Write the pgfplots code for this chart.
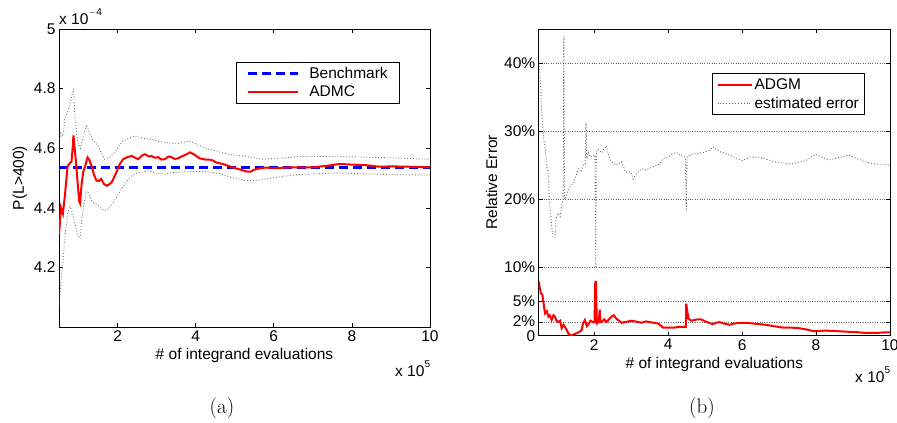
\documentclass[border=0pt]{standalone}
\usepackage{fontspec}
\usepackage{pgfplots}
\pgfplotsset{compat=1.18}
\usepackage{pgfplotstable}
\newfontfamily\chartfont{Liberation Sans}
\newcommand\chartsize{\chartfont\fontsize{15.5}{18}\selectfont}

% ---------- panel (a): estimate of P(L>400), units of 1e-4 ----------
\pgfplotstableread{
x y
0.50 4.310
0.55 4.400
0.60 4.380
0.65 4.440
0.72 4.540
0.78 4.550
0.82 4.555
0.85 4.600
0.87 4.643
0.90 4.600
0.93 4.560
0.98 4.480
1.02 4.420
1.04 4.415
1.08 4.480
1.12 4.520
1.17 4.540
1.23 4.569
1.28 4.560
1.33 4.541
1.40 4.510
1.46 4.491
1.52 4.490
1.58 4.497
1.65 4.480
1.72 4.474
1.78 4.478
1.85 4.486
1.92 4.505
1.97 4.519
2.05 4.545
2.14 4.563
2.25 4.570
2.36 4.574
2.45 4.568
2.53 4.563
2.62 4.575
2.70 4.580
2.80 4.572
2.87 4.574
2.95 4.568
3.04 4.570
3.12 4.562
3.21 4.563
3.30 4.572
3.38 4.570
3.46 4.564
3.55 4.566
3.63 4.572
3.71 4.576
3.80 4.582
3.85 4.586
3.95 4.580
4.10 4.566
4.25 4.562
4.40 4.561
4.53 4.552
4.70 4.547
4.85 4.540
5.04 4.532
5.20 4.526
5.30 4.522
5.40 4.521
5.50 4.528
5.63 4.532
5.80 4.535
6.00 4.533
6.30 4.535
6.60 4.536
7.00 4.536
7.30 4.540
7.68 4.547
8.00 4.545
8.36 4.543
8.70 4.538
9.04 4.539
9.40 4.538
9.70 4.537
10.0 4.536
}\admc

\pgfplotstableread{
x y
0.50 4.620
0.55 4.650
0.60 4.640
0.65 4.700
0.72 4.720
0.80 4.760
0.87 4.800
0.91 4.700
0.98 4.620
1.05 4.600
1.12 4.640
1.20 4.674
1.25 4.663
1.35 4.630
1.50 4.608
1.67 4.563
1.80 4.570
1.93 4.586
2.05 4.610
2.14 4.624
2.30 4.635
2.44 4.641
2.70 4.632
2.87 4.630
3.05 4.622
3.25 4.619
3.50 4.615
3.70 4.620
3.85 4.624
4.10 4.608
4.30 4.598
4.53 4.591
4.80 4.580
5.20 4.574
5.72 4.563
6.20 4.567
6.66 4.572
7.20 4.572
7.68 4.572
8.30 4.570
8.90 4.568
9.40 4.566
10.0 4.563
}\upperband

\pgfplotstableread{
x y
0.50 4.070
0.55 4.150
0.60 4.220
0.65 4.300
0.72 4.380
0.78 4.408
0.85 4.380
0.92 4.340
0.98 4.310
1.04 4.297
1.10 4.380
1.20 4.455
1.25 4.450
1.35 4.420
1.50 4.408
1.60 4.395
1.72 4.391
1.85 4.410
1.97 4.435
2.10 4.463
2.25 4.490
2.36 4.508
2.55 4.518
2.78 4.524
3.00 4.516
3.21 4.513
3.40 4.518
3.63 4.520
4.00 4.522
4.30 4.521
4.61 4.515
4.90 4.502
5.29 4.491
5.50 4.492
5.80 4.497
6.20 4.505
6.70 4.512
7.20 4.515
7.68 4.517
8.30 4.514
8.90 4.512
9.40 4.511
10.0 4.510
}\lowerband

% ---------- panel (b): relative errors ----------
\pgfplotstableread{
x y
0.50 0.080
0.53 0.070
0.56 0.062
0.60 0.060
0.62 0.052
0.67 0.033
0.72 0.036
0.76 0.028
0.80 0.030
0.85 0.023
0.90 0.030
0.94 0.028
0.98 0.022
1.03 0.020
1.08 0.022
1.12 0.011
1.17 0.016
1.21 0.013
1.26 0.008
1.30 0.0035
1.35 0.001
1.39 0.000
1.45 0.002
1.52 0.0035
1.58 0.005
1.66 0.008
1.70 0.018
1.75 0.023
1.80 0.014
1.84 0.016
1.90 0.022
1.97 0.020
2.01 0.020
2.03 0.079
2.05 0.079
2.07 0.018
2.12 0.020
2.15 0.038
2.17 0.020
2.20 0.020
2.27 0.024
2.33 0.020
2.40 0.024
2.47 0.028
2.53 0.030
2.60 0.025
2.67 0.022
2.74 0.019
2.85 0.020
3.00 0.022
3.10 0.021
3.20 0.020
3.28 0.019
3.40 0.021
3.50 0.020
3.60 0.019
3.72 0.018
3.80 0.015
3.86 0.012
4.00 0.012
4.18 0.012
4.30 0.013
4.44 0.013
4.48 0.013
4.49 0.047
4.52 0.035
4.55 0.025
4.63 0.022
4.71 0.023
4.80 0.024
4.89 0.024
5.00 0.021
5.10 0.019
5.21 0.017
5.30 0.019
5.39 0.020
5.50 0.018
5.66 0.016
5.80 0.018
5.93 0.019
6.10 0.019
6.28 0.018
6.45 0.017
6.64 0.016
6.85 0.014
7.09 0.012
7.30 0.012
7.54 0.011
7.75 0.009
7.95 0.0065
8.10 0.007
8.26 0.0075
8.45 0.007
8.62 0.0065
8.80 0.006
8.98 0.0055
9.15 0.005
9.34 0.004
9.50 0.004
9.61 0.004
9.75 0.0045
9.88 0.005
10.0 0.005
}\adgm

\pgfplotstableread{
x y
0.50 0.400
0.53 0.387
0.56 0.357
0.58 0.330
0.61 0.309
0.64 0.286
0.67 0.279
0.72 0.250
0.76 0.235
0.78 0.211
0.80 0.191
0.85 0.162
0.89 0.145
0.94 0.143
0.97 0.172
1.03 0.180
1.08 0.175
1.12 0.189
1.16 0.200
1.18 0.439
1.20 0.200
1.25 0.206
1.30 0.215
1.39 0.221
1.48 0.230
1.57 0.245
1.65 0.240
1.70 0.250
1.76 0.252
1.78 0.313
1.80 0.260
1.84 0.269
1.90 0.262
1.96 0.265
2.02 0.265
2.04 0.099
2.06 0.270
2.11 0.274
2.20 0.268
2.33 0.279
2.40 0.262
2.47 0.255
2.60 0.250
2.74 0.255
2.85 0.240
3.00 0.240
3.05 0.230
3.15 0.238
3.28 0.245
3.41 0.243
3.55 0.247
3.77 0.252
3.86 0.260
4.00 0.262
4.13 0.267
4.22 0.269
4.35 0.264
4.47 0.262
4.49 0.182
4.51 0.262
4.67 0.267
4.90 0.268
5.12 0.272
5.21 0.277
5.40 0.270
5.57 0.267
5.80 0.262
6.01 0.257
6.20 0.262
6.47 0.262
6.70 0.258
6.91 0.255
7.15 0.253
7.36 0.252
7.55 0.255
7.72 0.257
7.99 0.266
8.15 0.262
8.35 0.258
8.60 0.261
8.89 0.265
9.10 0.260
9.34 0.255
9.60 0.252
9.92 0.251
10.0 0.250
}\esterr

\pgfplotsset{
  matlab/.style={
    scale only axis,
    font=\chartsize,
    axis line style={line width=0.7pt},
    tick align=inside,
    major tick length=4pt,
    tick style={black, line width=0.6pt},
    /pgf/number format/assume math mode=true,
    scaled ticks=false,
    xmin=0.5, xmax=10,
    xtick={2,4,6,8,10},
    xlabel={\# of integrand evaluations},
    legend cell align=left,
    legend style={draw=black, line width=0.7pt, font=\chartsize,
      inner ysep=3pt, row sep=2pt},
  },
}

\begin{document}
\begin{tikzpicture}
\path[use as bounding box] (0pt,0pt) rectangle (897pt,-423pt);

% ---------------- (a) ----------------
\begin{axis}[matlab,
  at={(59pt,-29pt)}, anchor=north west,
  width=371pt, height=298pt,
  ymin=4, ymax=5,
  ytick={4.2,4.4,4.6,4.8,5},
  yticklabel style={/pgf/number format/fixed,
    /pgf/number format/precision=1},
  ylabel={P(L>400)},
  legend style={at={(0.477,0.889)}, anchor=north west, inner xsep=10pt},
  legend image code/.code={\draw[#1] (0pt,0pt) -- (50pt,0pt);
    \path (58pt,0pt);},
]
\addplot[forget plot, black!55, dotted, line width=0.9pt] table {\upperband};
\addplot[forget plot, black!55, dotted, line width=0.9pt] table {\lowerband};
\addplot[blue, line width=3pt, dash pattern=on 9pt off 5pt]
  coordinates {(0.5,4.534) (10,4.534)};
\addlegendentry{Benchmark}
\addplot[red, line width=2pt] table {\admc};
\addlegendentry{ADMC}
\end{axis}

% ---------------- (b) ----------------
\begin{axis}[matlab,
  at={(538.7pt,-29pt)}, anchor=north west,
  width=351.3pt, height=306.7pt,
  ymin=0, ymax=0.45,
  ytick={0,0.02,0.05,0.1,0.2,0.3,0.4},
  yticklabels={\raisebox{-2pt}{0},\raisebox{1pt}{2\%},5\%,10\%,20\%,30\%,40\%},
  ymajorgrids,
  grid style={black!60, dotted, line width=0.6pt},
  ylabel={Relative Error},
  legend style={at={(0.494,0.856)}, anchor=north west, inner xsep=4pt},
  legend image code/.code={\draw[#1] (0pt,0pt) -- (34pt,0pt);},
]
\addplot[red, line width=2pt] table {\adgm};
\addlegendentry{ADGM}
\addplot[black!60, dotted, line width=0.9pt] table {\esterr};
\addlegendentry{estimated error}
\end{axis}

% axis multipliers
\node[anchor=base west, inner sep=0pt, font=\chartsize] at (59pt,-24pt)
  {x 10\raisebox{0.55em}{\fontsize{10}{12}\selectfont $-$4}};
\node[anchor=base west, inner sep=0pt, font=\chartsize] at (395pt,-376pt)
  {x 10\raisebox{0.55em}{\fontsize{10}{12}\selectfont 5}};
\node[anchor=base west, inner sep=0pt, font=\chartsize] at (855pt,-382pt)
  {x 10\raisebox{0.55em}{\fontsize{10}{12}\selectfont 5}};

% panel captions
\node[font=\fontsize{21}{25}\selectfont] at (222pt,-408pt) {(a)};
\node[font=\fontsize{21}{25}\selectfont] at (702pt,-408pt) {(b)};
\end{tikzpicture}
\end{document}
